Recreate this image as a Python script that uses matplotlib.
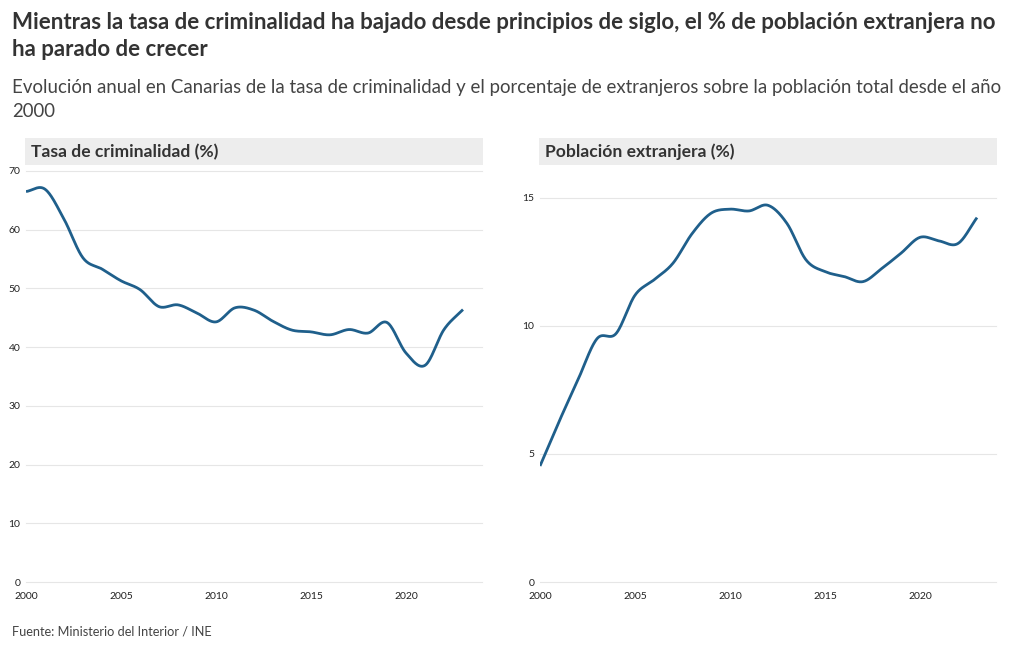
import numpy as np
import matplotlib
matplotlib.use("Agg")
import matplotlib.pyplot as plt
from matplotlib.patches import Rectangle

years = list(range(2000, 2024))
criminalidad = [66.5, 66.9, 61.8, 55.2, 53.3, 51.3, 49.8, 46.9, 47.2, 45.8, 44.3, 46.7,
                46.3, 44.4, 42.9, 42.6, 42.1, 43.0, 42.4, 44.2, 39.0, 36.9, 43.0, 46.4]
extranjera = [4.53, 6.26, 7.9, 9.5, 9.7, 11.2, 11.8, 12.45, 13.6, 14.4, 14.56, 14.49,
              14.71, 14.0, 12.58, 12.12, 11.93, 11.73, 12.25, 12.84, 13.46, 13.32, 13.22, 14.23]

title = ("Mientras la tasa de criminalidad ha bajado desde principios de siglo, el % de población extranjera no\n"
         "ha parado de crecer")
subtitle = ("Evolución anual en Canarias de la tasa de criminalidad y el porcentaje de extranjeros sobre la población total desde el año\n"
            "2000")
panel_titles = ["Tasa de criminalidad (%)", "Población extranjera (%)"]
source = "Fuente: Ministerio del Interior / INE"
xticks = [2000, 2005, 2010, 2015, 2020]
yticks_left = [0, 10, 20, 30, 40, 50, 60, 70]
yticks_right = [0, 5, 10, 15]

FONT = "Lato"
plt.rcParams["font.family"] = [FONT, "DejaVu Sans"]
LINE = "#1f5f8b"
TXT = "#333333"


def catmull_rom(x, y, n=30):
    x = np.asarray(x, float)
    y = np.asarray(y, float)
    px = np.concatenate([[2 * x[0] - x[1]], x, [2 * x[-1] - x[-2]]])
    py = np.concatenate([[2 * y[0] - y[1]], y, [2 * y[-1] - y[-2]]])
    xs, ys = [], []
    for i in range(1, len(px) - 2):
        t = np.linspace(0, 1, n, endpoint=False)
        p0, p1, p2, p3 = py[i - 1], py[i], py[i + 1], py[i + 2]
        yy = 0.5 * ((2 * p1) + (-p0 + p2) * t + (2 * p0 - 5 * p1 + 4 * p2 - p3) * t ** 2
                    + (-p0 + 3 * p1 - 3 * p2 + p3) * t ** 3)
        xx = px[i] + (px[i + 1] - px[i]) * t
        xs.append(xx)
        ys.append(yy)
    xs.append([x[-1]])
    ys.append([y[-1]])
    return np.concatenate(xs), np.concatenate(ys)


fig = plt.figure(figsize=(10.2, 6.5), dpi=100)
W, H = 1020, 650


def fx(px):
    return px / W


def fy(py):
    return 1 - py / H


fig.text(fx(12), fy(12), title, fontsize=16.0, fontweight="bold", color=TXT,
         va="top", ha="left", linespacing=1.35)
fig.text(fx(12), fy(79), subtitle, fontsize=13.4, color="#444444",
         va="top", ha="left", linespacing=1.5)
fig.text(fx(12), fy(632), source, fontsize=9.2, color="#444444", va="center", ha="left")

specs = [
    (26, 482, criminalidad, (0, 70), yticks_left, panel_titles[0]),
    (540, 996, extranjera, (0, 16.05), yticks_right, panel_titles[1]),
]

for x0, x1, data, ylim, yt, ptitle in specs:
    ax = fig.add_axes([fx(x0), fy(582), fx(x1 - x0), (582 - 171) / H])
    ax.set_xlim(2000, 2024)
    ax.set_ylim(*ylim)
    sx, sy = catmull_rom(years, data)
    ax.plot(sx, sy, color=LINE, lw=2.0, solid_capstyle="butt", zorder=3)
    ax.set_yticks(yt)
    ax.set_xticks(xticks)
    ax.grid(axis="y", color="#e6e6e6", lw=0.8)
    ax.grid(axis="x", visible=False)
    for gl in ax.get_ygridlines():
        gl.set_clip_on(False)
    for s in ax.spines.values():
        s.set_visible(False)
    ax.tick_params(length=0, labelsize=7.5, colors="#222222", pad=4)
    ax.tick_params(axis="x", pad=7)
    ax.set_facecolor("none")
    ax.patch.set_alpha(0)
    # header box
    fig.patches.append(Rectangle((fx(x0 - 1), fy(165)), fx(x1 - x0 + 2), (165 - 138) / H,
                                 transform=fig.transFigure, facecolor="#ededed",
                                 edgecolor="none", zorder=0))
    fig.text(fx(x0 + 5), fy(152), ptitle, fontsize=12.6, fontweight="bold", color=TXT,
             va="center", ha="left")

fig.savefig("out.png", dpi=100)
